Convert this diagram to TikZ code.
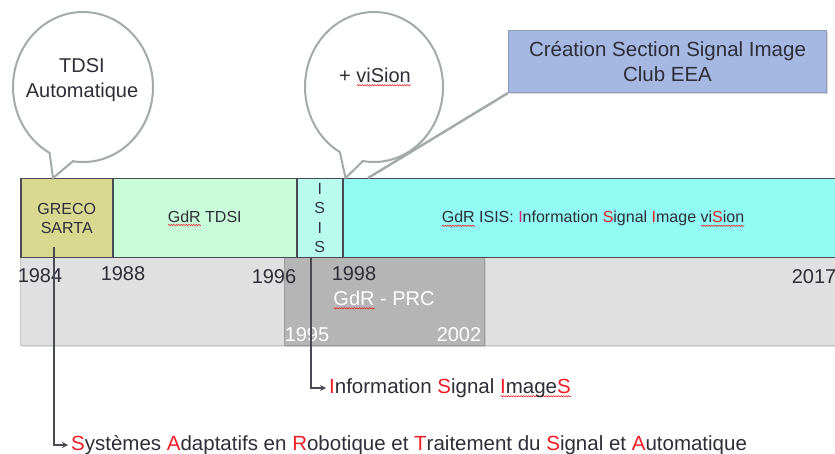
\documentclass[tikz,border=0pt]{standalone}
\usepackage{fontspec}
\setmainfont{Liberation Sans}
\usetikzlibrary{arrows.meta,shadows,calc,decorations.pathmorphing}
\definecolor{txt}{HTML}{2E2E38}
\definecolor{edge}{HTML}{4A4A55}
\definecolor{grecoF}{HTML}{D8D891}
\definecolor{tdsiF}{HTML}{C8FCD9}
\definecolor{isisF}{HTML}{B9FCEE}
\definecolor{gdrF}{HTML}{92FCF4}
\definecolor{barF}{HTML}{E0E0E0}
\definecolor{barE}{HTML}{C2C8C5}
\definecolor{prcF}{HTML}{B5B5B5}
\definecolor{prcE}{HTML}{9C9C9C}
\definecolor{creF}{HTML}{A4B8E2}
\definecolor{creE}{HTML}{8E9BB8}
\definecolor{bub}{HTML}{A3ACA8}
\definecolor{sred}{HTML}{EE1C25}
\definecolor{smag}{HTML}{E0207F}
\definecolor{isisT}{HTML}{33334A}
\newsavebox\wavebox
\newlength\wavelen
\newcommand\rwave[1]{\sbox\wavebox{#1}\setlength\wavelen{\wd\wavebox}%
  \rlap{\tikz[x=1pt,y=1pt,baseline=0pt]\draw[sred,line width=0.5pt,decorate,decoration={snake,amplitude=0.7pt,segment length=2.5pt}] (0pt,-3pt) -- (\wavelen,-3pt);}%
  \usebox\wavebox}
\newcommand\rl[1]{\textcolor{sred}{#1}}
\begin{document}
\begin{tikzpicture}[x=1pt,y=-1pt,
  ftwenty/.style={font=\fontsize{20}{25}\selectfont},
  fbig/.style={font=\fontsize{20.5}{25}\selectfont},
  fbottom/.style={font=\fontsize{20.5}{25}\selectfont},
  fsixteen/.style={font=\fontsize{16}{19}\selectfont},
  period/.style={draw=edge, line width=1.5pt, inner sep=0pt, anchor=north west, text=txt, fsixteen, align=center},
  year/.style={ftwenty, text=txt, inner sep=0pt},
  wyear/.style={ftwenty, text=white, inner sep=0pt},
  bubble/.style={draw=bub, line width=2pt, fill=white, drop shadow={opacity=0.15, shadow xshift=1pt, shadow yshift=-1pt}},
  conn/.style={draw=edge, line width=1.6pt, -{Stealth[length=6pt,width=6pt]}},
  callout/.style={draw=bub, line width=2.5pt},
  endtext/.style={fbottom, text=txt, anchor=west, inner ysep=0pt, inner xsep=3pt},
]
\useasboundingbox (0,0) rectangle (835,454);

% background bars
\node[draw=barE, line width=1pt, fill=barF, minimum width=825pt, minimum height=88pt, inner sep=0pt, anchor=north west,
      drop shadow={opacity=0.25, shadow xshift=1pt, shadow yshift=-1.5pt}] (bar) at (20,257) {};
\node[draw=prcE, line width=1pt, fill=prcF, minimum width=200pt, minimum height=88pt, inner sep=0pt, anchor=north west,
      drop shadow={opacity=0.25, shadow xshift=1pt, shadow yshift=-1.5pt}] (prc) at (284,257) {};

% top row
\node[period, fill=grecoF, minimum width=92pt, minimum height=79pt] (greco) at (20,178) {GRECO\\SARTA};
\node[period, fill=tdsiF, minimum width=184pt, minimum height=79pt] (tdsi) at (112,178) {\rwave{GdR} TDSI};
\node[period, fill=isisF, minimum width=46pt, minimum height=79pt, text=isisT, font=\fontsize{16}{19.5}\selectfont] (isis) at (296,178) {I\\S\\I\\S};
\node[period, fill=gdrF, minimum width=505pt, minimum height=79pt] (gdr) at (342,178) {};
\node[fsixteen, text=txt, inner sep=0pt] (gdrtext) at (593,219)
  {\rwave{GdR} ISIS: \textcolor{smag}{I}nformation \rl{S}ignal \rl{I}mage \rwave{vi\rl{S}ion}};

% years
\node[year] (y84) at (40,276) {1984};
\node[year] (y88) at (123,274) {1988};
\node[year] (y96) at (274,277) {1996};
\node[year] (y98) at (354,274) {1998};
\node[year] (y17) at (814,277) {2017};
\node[wyear] (prctext) at (384,300) {\rwave{GdR} - PRC};
\node[wyear] (y95) at (307,335) {1995};
\node[wyear] (y02) at (459,335) {2002};

% bubble 1
\coordinate (b1c) at (83,87);
\coordinate (t1) at ($(greco.north west)+(33,0)$);
\draw[bubble] ($(b1c)+(98.3:70 and 75)$) arc[start angle=98.3, end angle=-241.5, x radius=70, y radius=75] -- (t1) -- cycle;
\node[ftwenty, text=txt, align=center] (b1t) at (82,80) {TDSI\\Automatique};

% bubble 2
\coordinate (b2c) at (374,87);
\coordinate (t2) at ($(isis.north east)+(2,0)$);
\draw[bubble] ($(b2c)+(99.3:69 and 75)$) arc[start angle=99.3, end angle=-240.4, x radius=69, y radius=75] -- (t2) -- cycle;
\node[ftwenty, text=txt] (b2t) at (375,77) {+ \rwave{viSion}};

% Creation box and callout
\node[draw=creE, line width=1pt, fill=creF, minimum width=318pt, minimum height=62pt, inner sep=0pt, anchor=north west,
      drop shadow={opacity=0.3, shadow xshift=1.5pt, shadow yshift=-1.5pt}, align=center, fbig, text=txt] (cre) at (508,30)
  {Création Section Signal Image\\Club EEA};
\coordinate (cl) at ($(gdr.north west)+(26,0)$);
\draw[callout] (cre.south west) -- (cl);

% bottom texts and connectors
\node[endtext] (isi) at (326,388) {\rl{I}nformation \rl{S}ignal \rwave{\rl{I}mage\rl{S}}};
\node[endtext] (sys) at (68,445)
  {\rl{S}ystèmes \rl{A}daptatifs en \rl{R}obotique et \rl{T}raitement du \rl{S}ignal et \rl{A}utomatique};
\draw[conn] ($(greco.south)+(-13,-11)$) |- (sys.west);
\draw[conn] ($(isis.south)+(-9,0)$) |- (isi.west);
\end{tikzpicture}
\end{document}
